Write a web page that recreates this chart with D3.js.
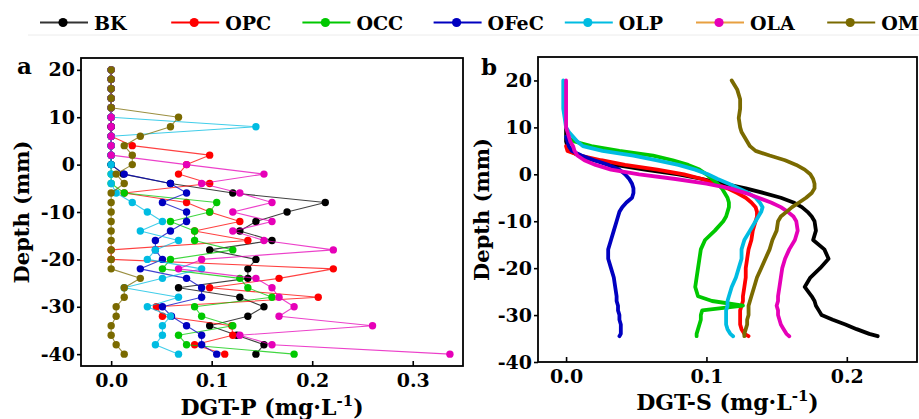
<!DOCTYPE html>
<html>
<head>
<meta charset="utf-8">
<script src="https://cdn.jsdelivr.net/npm/d3@7"></script>
<style>
  body { margin: 0; background: #fff; }
  text { font-family: "DejaVu Serif", serif; font-weight: bold; fill: #000; }
</style>
</head>
<body>
<svg id="fig" width="919" height="419"></svg>
<script>
// series names and colours
const seriesNames = ["BK", "OPC", "OCC", "OFeC", "OLP", "OLA", "OM"];
const seriesColors = ["#000000", "#ff0000", "#00c800", "#0000c0", "#00bce2", "#e600b8", "#7a6a00"];
const legendLineColors = ["#333333", "#ff0000", "#00c800", "#0000c0", "#00bce2", "#e8a040", "#7a6a00"];

// panel a: DGT-P, one point every 2 mm
const depthP = [20, 18, 16, 14, 12, 10, 8, 6, 4, 2, 0, -2, -4, -6, -8, -10, -12, -14, -16, -18,
                -20, -22, -24, -26, -28, -30, -32, -34, -36, -38, -40];
const pBK   = [0, 0, 0, 0, 0, 0, 0, 0, 0, 0, 0, 0.012, 0.059, 0.121, 0.213, 0.175, 0.144, 0.128, 0.16, 0.098,
               0.144, 0.136, 0.136, 0.067, 0.128, 0.152, 0.136, 0.098, 0.125, 0.152, 0.144];
const pOPC  = [0, 0, 0, 0, 0, 0, 0, 0, 0.021, 0.098, 0.075, 0.067, 0.098, 0.013, 0.075, 0.098, 0.128, 0.083, 0.136, 0,
               0, 0.221, 0.167, 0.098, 0.206, 0.045, 0.051, 0.12, 0.121, 0.083, 0.113];
const pOCC  = [0, 0, 0, 0, 0, 0, 0, 0, 0, 0, 0, 0, 0, 0.013, 0.105, 0.098, 0.059, 0.083, 0.083, 0.121,
               0.059, 0.051, 0.128, 0.136, 0.16, 0.083, 0.09, 0.121, 0.067, 0.075, 0.182];
const pOFeC = [0, 0, 0, 0, 0, 0, 0, 0, 0, 0, 0, 0.013, 0.059, 0.075, 0.051, 0.075, 0.075, 0.059, 0.044, 0.044,
               0.051, 0.029, 0.075, 0.09, 0.09, 0.051, 0.06, 0.075, 0.09, 0.09, 0.105];
const pOLP  = [0, 0, 0, 0, 0, 0, 0.144, 0, 0, 0, 0, 0, 0, 0.005, 0.021, 0.036, 0.051, 0.029, 0.067, 0.044,
               0.036, 0.09, 0.051, 0.013, 0.067, 0.036, 0.059, 0.051, 0.051, 0.044, 0.067];
const pOLA  = [0, 0, 0, 0, 0, 0, 0, 0, 0, 0, 0.075, 0.152, 0.09, 0.128, 0.16, 0.121, 0.16, 0.121, 0.152, 0.221,
               0.09, 0.067, 0.144, 0.16, 0.167, 0.182, 0.167, 0.26, 0.128, 0.16, 0.337];
const pOM   = [0, 0, 0, 0, 0, 0.067, 0.059, 0.029, 0.013, 0.021, 0.021, 0.005, 0.013, 0, 0, 0, 0, 0, 0, 0,
               0, 0, 0.029, 0.013, 0.013, 0.005, 0.005, 0, 0, 0.005, 0.013];

// panel b: DGT-S profiles (null = no reading)
const depthS = [20, 18, 16, 14, 12, 10, 9, 8, 7, 6, 5, 4, 3, 2, 1, 0, -1, -2, -3, -4, -5, -6, -7, -8, -9, -10,
                -12, -14, -16, -18, -20, -22, -24, -26, -27, -28, -29, -30, -31, -32, -33, -34, -34.5];
const sBK   = [null, null, null, null, null, 0, 0, 0, 0, 0.001, 0.003, 0.009, 0.02, 0.035, 0.056, 0.08, 0.097, 0.112, 0.128, 0.141, 0.153, 0.162, 0.168, 0.172, 0.175, 0.177,
               0.178, 0.176, 0.184, 0.187, 0.181, 0.174, 0.17, 0.175, 0.177, 0.178, 0.18, 0.182, 0.19, 0.199, 0.207, 0.216, 0.222];
const sOPC  = [null, null, null, null, null, null, null, null, null, 0, 0.001, 0.01, 0.025, 0.042, 0.065, 0.084, 0.097, 0.106, 0.115, 0.122, 0.128, 0.132, 0.135, 0.136, 0.136, 0.135,
               0.133, 0.132, 0.13, 0.129, 0.128, 0.128, 0.127, 0.126, 0.126, 0.125, 0.124, 0.124, 0.124, 0.124, 0.125, 0.127, 0.13];
const sOCC  = [null, null, null, null, null, null, null, 0, 0.006, 0.018, 0.038, 0.062, 0.076, 0.087, 0.095, 0.1, 0.104, 0.108, 0.111, 0.113, 0.115, 0.116, 0.116, 0.115, 0.114, 0.112,
               0.106, 0.099, 0.096, 0.095, 0.094, 0.093, 0.092, 0.094, 0.104, 0.126, 0.097, 0.096, 0.096, 0.095, 0.094, 0.093, 0.093];
const sOFeC = [null, null, null, null, null, null, null, 0, 0.001, 0.002, 0.004, 0.011, 0.02, 0.03, 0.038, 0.042, 0.045, 0.047, 0.048, 0.048, 0.047, 0.043, 0.04, 0.038, 0.037, 0.036,
               0.034, 0.032, 0.03, 0.03, 0.032, 0.034, 0.035, 0.036, 0.036, 0.037, 0.037, 0.038, 0.038, 0.039, 0.039, 0.039, 0.038];
const sOLP  = [-0.002, -0.002, -0.002, -0.002, -0.001, 0, 0.002, 0.005, 0.008, 0.012, 0.026, 0.048, 0.064, 0.08, 0.092, 0.101, 0.108, 0.116, 0.123, 0.13, 0.135, 0.138, 0.14, 0.139, 0.137, 0.135,
               0.131, 0.127, 0.125, 0.125, 0.123, 0.121, 0.118, 0.116, 0.115, 0.115, 0.114, 0.114, 0.114, 0.114, 0.115, 0.117, 0.119];
const sOLA  = [0, 0, 0, 0, 0, 0, 0.001, 0.002, 0.003, 0.005, 0.006, 0.008, 0.013, 0.021, 0.032, 0.052, 0.078, 0.1, 0.117, 0.128, 0.137, 0.146, 0.153, 0.158, 0.162, 0.164,
               0.165, 0.163, 0.159, 0.156, 0.154, 0.153, 0.152, 0.151, 0.151, 0.15, 0.151, 0.151, 0.152, 0.153, 0.155, 0.157, 0.159];
const sOM   = [0.118, 0.122, 0.124, 0.124, 0.123, 0.124, 0.125, 0.127, 0.129, 0.131, 0.135, 0.145, 0.156, 0.164, 0.17, 0.174, 0.176, 0.177, 0.177, 0.175, 0.171, 0.166, 0.161, 0.157, 0.153, 0.151,
               0.15, 0.147, 0.145, 0.142, 0.139, 0.136, 0.134, 0.132, 0.131, 0.13, 0.13, 0.13, 0.129, 0.129, 0.128, 0.127, 0.127];

const pSeries = [pBK, pOPC, pOCC, pOFeC, pOLP, pOLA, pOM];
const sSeries = [sBK, sOPC, sOCC, sOFeC, sOLP, sOLA, sOM];

const svg = d3.select("#fig");

// legend
const legend = svg.append("g");
legend.append("line")
    .attr("x1", 28).attr("x2", 919).attr("y1", 35).attr("y2", 35)
    .attr("stroke", "#ececec").attr("stroke-width", 1);

seriesNames.forEach(function(name, i) {
    const cx = 63 + i * 131.2;
    const row = legend.append("g").attr("transform", "translate(" + cx + ",22.5)");
    row.append("line")
        .attr("x1", -23).attr("x2", 25)
        .attr("stroke", legendLineColors[i]).attr("stroke-width", 1.8);
    row.append("circle").attr("r", 4.6).attr("fill", seriesColors[i]);
    row.append("text")
        .attr("x", 31).attr("y", 7)
        .style("font-size", "19px")
        .text(name);
});

function panel(opts) {
    const x = d3.scaleLinear().domain(opts.xDomain).range(opts.xRange);
    const y = d3.scaleLinear().domain(opts.yDomain).range(opts.yRange);
    const g = svg.append("g");

    // series, first in legend order goes at the bottom
    opts.series.forEach(function(vals, i) {
        const pts = opts.depths.map((d, j) => [vals[j], d]).filter(p => p[0] !== null);
        const line = d3.line().x(p => x(p[0])).y(p => y(p[1]));
        g.append("path")
            .attr("d", line(pts))
            .attr("fill", "none")
            .attr("stroke", seriesColors[i])
            .attr("stroke-width", opts.lineWidth)
            .attr("stroke-opacity", opts.lineOpacity)
            .attr("stroke-linejoin", "round")
            .attr("stroke-linecap", "round");
        if (opts.markers) {
            g.append("g").selectAll("circle")
                .data(pts)
                .join("circle")
                .attr("cx", p => x(p[0]))
                .attr("cy", p => y(p[1]))
                .attr("r", 3.7)
                .attr("fill", seriesColors[i]);
        }
    });

    const xAxis = g.append("g")
        .attr("transform", "translate(0," + opts.yRange[0] + ")")
        .call(d3.axisBottom(x).tickValues(opts.xTicks).tickFormat(d3.format(".1f"))
            .tickSizeInner(-5).tickSizeOuter(0).tickPadding(8));
    const yAxis = g.append("g")
        .attr("transform", "translate(" + opts.xRange[0] + ",0)")
        .call(d3.axisLeft(y).tickValues(opts.yTicks).tickFormat(d => String(d))
            .tickSizeInner(4).tickSizeOuter(0).tickPadding(2));
    [xAxis, yAxis].forEach(a => {
        a.select(".domain").remove();
        a.selectAll(".tick line").attr("stroke", "#000").attr("stroke-width", 1.6);
        a.selectAll("text").attr("font-family", null).attr("font-size", null)
            .style("font-size", "19px");
    });

    // frame
    g.append("rect")
        .attr("x", opts.xRange[0]).attr("y", opts.yRange[1])
        .attr("width", opts.xRange[1] - opts.xRange[0])
        .attr("height", opts.yRange[0] - opts.yRange[1])
        .attr("fill", "none").attr("stroke", "#000").attr("stroke-width", 1.8);

    // titles
    const xt = g.append("text")
        .attr("x", (opts.xRange[0] + opts.xRange[1]) / 2)
        .attr("y", opts.xTitleY)
        .attr("text-anchor", "middle")
        .style("font-size", "22px");
    xt.append("tspan").text(opts.xTitle + " (mg·L");
    xt.append("tspan").attr("dy", -9).style("font-size", "15px").text("-1");
    xt.append("tspan").attr("dy", 9).text(")");

    g.append("text")
        .attr("transform", "translate(" + opts.yTitleX + "," + (opts.yRange[0] + opts.yRange[1]) / 2 + ") rotate(-90)")
        .attr("text-anchor", "middle")
        .style("font-size", "21px")
        .text("Depth (mm)");

    g.append("text")
        .attr("x", opts.labelX).attr("y", opts.labelY)
        .style("font-size", "23px")
        .text(opts.label);
}

panel({
    depths: depthP, series: pSeries, markers: true,
    lineWidth: 1.1, lineOpacity: 0.75,
    xDomain: [-0.03, 0.35], xRange: [81, 463],
    yDomain: [-42.5, 22.5], yRange: [366, 58],
    xTicks: [0, 0.1, 0.2, 0.3], yTicks: [20, 10, 0, -10, -20, -30, -40],
    xTitle: "DGT-P", xTitleY: 415, yTitleX: 29,
    label: "a", labelX: 17, labelY: 74
});

panel({
    depths: depthS, series: sSeries, markers: false,
    lineWidth: 3.8, lineOpacity: 1,
    xDomain: [-0.02, 0.25], xRange: [538, 917],
    yDomain: [-40, 25], yRange: [362, 57],
    xTicks: [0, 0.1, 0.2], yTicks: [20, 10, 0, -10, -20, -30, -40],
    xTitle: "DGT-S", xTitleY: 410, yTitleX: 489,
    label: "b", labelX: 481, labelY: 75
});
</script>
</body>
</html>
